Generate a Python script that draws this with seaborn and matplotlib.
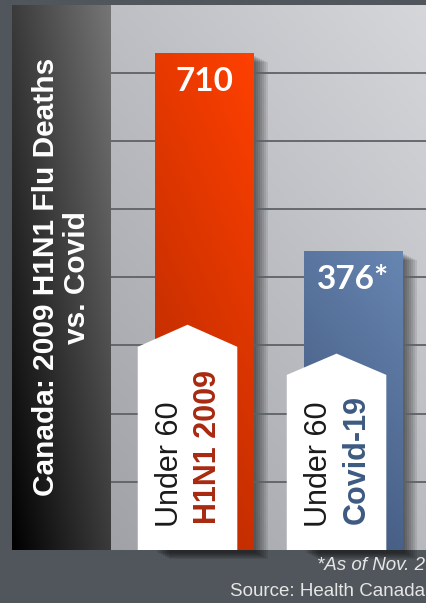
import numpy as np
import pandas as pd
import matplotlib
matplotlib.use("Agg")
import matplotlib.pyplot as plt
from matplotlib.patches import Rectangle, Polygon
from matplotlib.transforms import offset_copy, blended_transform_factory
from matplotlib.ticker import NullLocator
import seaborn as sns

# ---- data ----
groups = ["H1N1 2009", "Covid-19"]
deaths = [710, 376]
value_labels = ["710", "376*"]
age_label = "Under 60"
title = "Canada: 2009 H1N1 Flu Deaths\nvs. Covid"
footnote = "*As of Nov. 2"
source = "Source: Health Canada"

# ---- style ----
bar_colors = {"H1N1 2009": "#e23b04", "Covid-19": "#5874a2"}
grad_colors = {"H1N1 2009": ("#b02800", "#ff4000"), "Covid-19": ("#3d5276", "#6786b2")}
label_colors = {"H1N1 2009": "#a8290f", "Covid-19": "#3d5a82"}
label_tops = {"H1N1 2009": (0.3725, 0.413), "Covid-19": (0.321, 0.360)}

W, H = 427, 603
sns.set_theme(style="white")
plt.rcParams["font.family"] = ["Liberation Sans", "DejaVu Sans"]

fig = plt.figure(figsize=(W / 100, H / 100), dpi=100, facecolor="#50565b")


def fr(x0, y0, x1, y1):
    return [x0 / W, 1 - y1 / H, (x1 - x0) / W, (y1 - y0) / H]


def gradient(c0, c1, wx=0.3, wy=0.7, n=200):
    c0 = np.array(matplotlib.colors.to_rgb(c0))
    c1 = np.array(matplotlib.colors.to_rgb(c1))
    xx, yy = np.meshgrid(np.linspace(0, 1, n), np.linspace(0, 1, n))
    t = (wx * xx + wy * yy)[..., None]
    return c0 * (1 - t) + c1 * t


# left title panel
pax = fig.add_axes(fr(12, 4.5, 111, 550), zorder=0)
pax.imshow(gradient("#000000", "#767676", 0.5, 0.5), origin="lower",
           extent=[0, 1, 0, 1], aspect="auto")
pax.set_xlim(0, 1); pax.set_ylim(0, 1); pax.axis("off")
pax.text(0.5, 0.5, title, rotation=90, ha="center", va="center",
         multialignment="center", color="white", fontsize=21.5,
         fontweight="bold", linespacing=1.14, transform=pax.transAxes)

# plot background
bg = fig.add_axes(fr(111, 4.5, W, 550), zorder=0)
bg.imshow(gradient("#a0a2a7", "#d6d7db", 0.45, 0.55), origin="lower",
          extent=[0, 1, 0, 1], aspect="auto")
bg.set_xlim(0, 1); bg.set_ylim(0, 1); bg.axis("off")

# main axes
ax = fig.add_axes(fr(111, 4.5, W, 550), zorder=1)
ax.patch.set_alpha(0)
df = pd.DataFrame({"group": groups, "deaths": deaths})
sns.barplot(data=df, x="group", y="deaths", hue="group", order=groups,
            hue_order=groups, palette=bar_colors, width=0.664, saturation=1,
            errorbar=None, legend=False, ax=ax, linewidth=0)
ax.set_yscale("log")
ylo, yhi = 144, 830
ax.set_ylim(ylo, yhi)
ax.set_xlim(-0.6275, 1.493)
ax.set_yticks(np.geomspace(ylo, yhi, 9)[1:-1])
ax.yaxis.set_minor_locator(NullLocator())
ax.yaxis.grid(True, color="#5e6166", linewidth=1.3)
ax.xaxis.grid(False)
ax.set_axisbelow(True)
ax.tick_params(left=False, bottom=False, labelleft=False, labelbottom=False)
ax.set_xlabel(""); ax.set_ylabel("")
for s in ax.spines.values():
    s.set_visible(False)

to_axes = ax.transData + ax.transAxes.inverted()
blend = blended_transform_factory(ax.transData, ax.transAxes)

for patch, g, v, lab in zip(ax.patches, groups, deaths, value_labels):
    x0 = patch.get_x()
    w = patch.get_width()
    xc = x0 + w / 2
    (ax0, ay_top), = to_axes.transform([(x0, v)])
    (ax1, _), = to_axes.transform([(x0 + w, v)])
    # soft shadow
    for k in range(1, 8):
        tr = offset_copy(ax.transAxes, fig=fig, x=2 * k, y=-(2 + k), units="dots")
        ax.add_patch(Rectangle((ax0, 0), ax1 - ax0, ay_top, transform=tr,
                               facecolor="black", alpha=0.09, lw=0,
                               zorder=0.3, clip_on=False))
    # gradient fill
    c0, c1 = grad_colors[g]
    ax.imshow(gradient(c0, c1, 0.3, 0.7), origin="lower",
              extent=[ax0, ax1, 0, ay_top], transform=ax.transAxes,
              aspect="auto", zorder=2, interpolation="bilinear")
    # value label
    ax.annotate(lab, xy=(xc, v), xytext=(0, -28), textcoords="offset pixels",
                ha="center", va="center", color="white", fontsize=24,
                fontweight="bold", family=["Lato", "DejaVu Sans"], zorder=5)
    # white tag
    lc = xc - 0.114
    hw = 0.334
    sh, pt = label_tops[g]
    ax.add_patch(Polygon([(lc - hw, 0), (lc + hw, 0), (lc + hw, sh),
                          (lc, pt), (lc - hw, sh)], closed=True,
                         transform=blend, facecolor="white", lw=0, zorder=3))
    ax.text(lc - 0.115, 0.043, age_label, rotation=90, ha="center", va="bottom",
            transform=blend, fontsize=22, color="#1a1a1a", zorder=4)
    ax.text(lc + 0.138, 0.047, g, rotation=90, ha="center", va="bottom",
            transform=blend, fontsize=22, fontweight="bold",
            color=label_colors[g], zorder=4)

ax.set_xlim(-0.6275, 1.493)
ax.set_ylim(ylo, yhi)

fig.text((W - 2) / W, 1 - 565 / H, footnote, ha="right", va="center",
         fontsize=13.5, style="italic", color="#e6e6e6")
fig.text((W - 2) / W, 1 - 592 / H, source, ha="right", va="center",
         fontsize=13.5, color="#e6e6e6")

fig.savefig("out.png", dpi=100, facecolor=fig.get_facecolor())
